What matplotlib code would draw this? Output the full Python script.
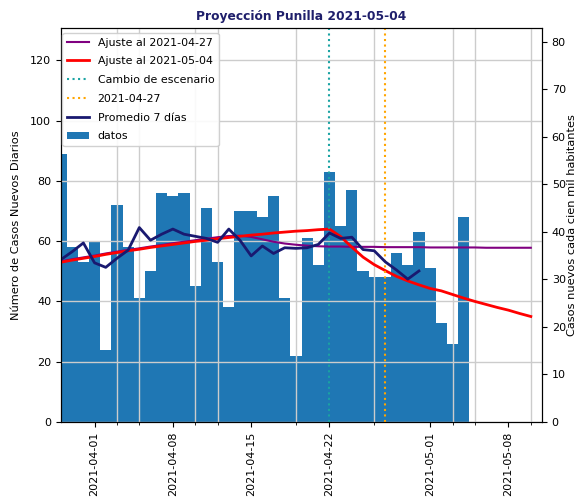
import matplotlib
matplotlib.use("Agg")
import matplotlib.pyplot as plt
import matplotlib.dates as mdates
import pandas as pd
import numpy as np

# ---- data ----
bar_start = "2021-03-29"
casos = [89, 58, 53, 60, 24, 72, 58, 41, 50, 76, 75, 76, 45, 71, 53, 38, 70, 70,
         68, 75, 41, 22, 61, 52, 83, 65, 77, 50, 48, 48, 56, 52, 63, 51, 33, 26, 68]

promedio7 = [53.9, 56.5, 59.4, 52.8, 51.3, 54.3, 57.0, 64.5, 60.3, 62.3, 64.0, 62.3,
             61.6, 60.9, 59.6, 64.0, 60.3, 55.1, 58.4, 55.9, 57.8, 57.6, 57.8, 58.9,
             62.7, 60.9, 61.3, 57.2, 56.8, 53.1, 50.4, 47.4, 50.1]

ajuste_0427 = [53.3, 54.0, 54.6, 55.2, 55.9, 56.5, 57.1, 57.6, 58.2, 58.7, 59.3, 59.8,
               60.3, 60.8, 61.3, 61.7, 61.8, 61.4, 60.6, 59.8, 59.2, 58.8, 58.5, 58.3,
               58.2, 58.2, 58.1, 58.1, 58.1, 58.0, 58.0, 58.0, 58.0, 57.9, 57.9, 57.9,
               57.9, 57.9, 57.8, 57.8, 57.8, 57.8, 57.8]

ajuste_0504 = [53.0, 53.7, 54.3, 54.9, 55.6, 56.2, 56.8, 57.3, 57.9, 58.4, 58.9, 59.4,
               59.9, 60.3, 60.8, 61.2, 61.6, 62.0, 62.3, 62.7, 63.0, 63.3, 63.5, 63.8,
               64.0, 61.5, 58.0, 54.7, 52.2, 50.2, 48.3, 46.8, 45.5, 44.3, 43.5, 42.3,
               41.1, 40.0, 39.0, 38.0, 37.1, 36.0, 35.0]

cambio_escenario = "2021-04-22"
fecha_ajuste = "2021-04-27"
poblacion = 157700
titulo = "Proyección Punilla 2021-05-04"

# ---- figure ----
fechas_bar = pd.date_range(bar_start, periods=len(casos), freq="D")
fechas_prom = pd.date_range(bar_start, periods=len(promedio7), freq="D")
fechas_aj = pd.date_range(bar_start, periods=len(ajuste_0504), freq="D")

fig = plt.figure(figsize=(5.76, 5.01), dpi=100)
ax = fig.add_axes([61/576, 1-422/501, (542-61)/576, (422-28)/501])

ax.bar(fechas_bar, casos, width=1.0, color="#1f77b4", label="datos", zorder=1)
ax.plot(fechas_aj, ajuste_0427, color="purple", lw=1.5, label="Ajuste al 2021-04-27", zorder=3)
ax.plot(fechas_aj, ajuste_0504, color="red", lw=2, label="Ajuste al 2021-05-04", zorder=3)
ax.axvline(pd.Timestamp(cambio_escenario), color="#1aa3a3", ls=":", lw=1.5, label="Cambio de escenario", zorder=3)
ax.axvline(pd.Timestamp(fecha_ajuste), color="orange", ls=":", lw=1.5, label="2021-04-27", zorder=3)
ax.plot(fechas_prom, promedio7, color="midnightblue", lw=2, label="Promedio 7 días", zorder=3)

xmin = pd.Timestamp("2021-03-29")
xmax = pd.Timestamp("2021-05-11")
ax.set_xlim(xmin, xmax)
ytop = 130.7
ax.set_ylim(0, ytop)
ax.set_yticks([0, 20, 40, 60, 80, 100, 120])

ax.xaxis.set_major_locator(mdates.DayLocator(bymonthday=[1, 8, 15, 22]))
ax.xaxis.set_major_formatter(mdates.DateFormatter("%Y-%m-%d"))
ax.xaxis.set_minor_locator(mdates.DayLocator(bymonthday=[5, 12, 19, 26, 3, 10]))
ax.tick_params(axis="x", which="minor", length=2)
for lab in ax.get_xticklabels():
    lab.set_rotation(90)
ax.tick_params(labelsize=8)

ax.set_axisbelow(False)
ax.grid(True, axis="y", which="major", color="#cccccc", lw=1, zorder=2)
ax.grid(True, axis="x", which="minor", color="#cccccc", lw=1, zorder=2)
ax.set_ylabel("Número de Casos Nuevos Diarios", fontsize=8.2)
ax.yaxis.set_label_coords(-0.084, 0.5)

ax2 = ax.twinx()
ax2.set_ylim(0, ytop * 100000 / poblacion)
ax2.set_yticks(np.arange(0, 81, 10))
ax2.tick_params(labelsize=8)
ax2.set_ylabel("Casos nuevos cada cien mil habitantes", fontsize=8.2)
ax2.yaxis.set_label_coords(1.052, 0.5)

handles, labels = ax.get_legend_handles_labels()
order = ["Ajuste al 2021-04-27", "Ajuste al 2021-05-04", "Cambio de escenario",
         "2021-04-27", "Promedio 7 días", "datos"]
hmap = dict(zip(labels, handles))
ax2.legend([hmap[k] for k in order], order, loc="upper left", fontsize=7.9,
           framealpha=0.9, labelspacing=0.8, borderaxespad=0,
           bbox_to_anchor=(0.003, 0.987))

ax.set_title(titulo, fontsize=8.8, fontweight="bold", color="#1f1f6b")

fig.savefig("out.png", dpi=100)
